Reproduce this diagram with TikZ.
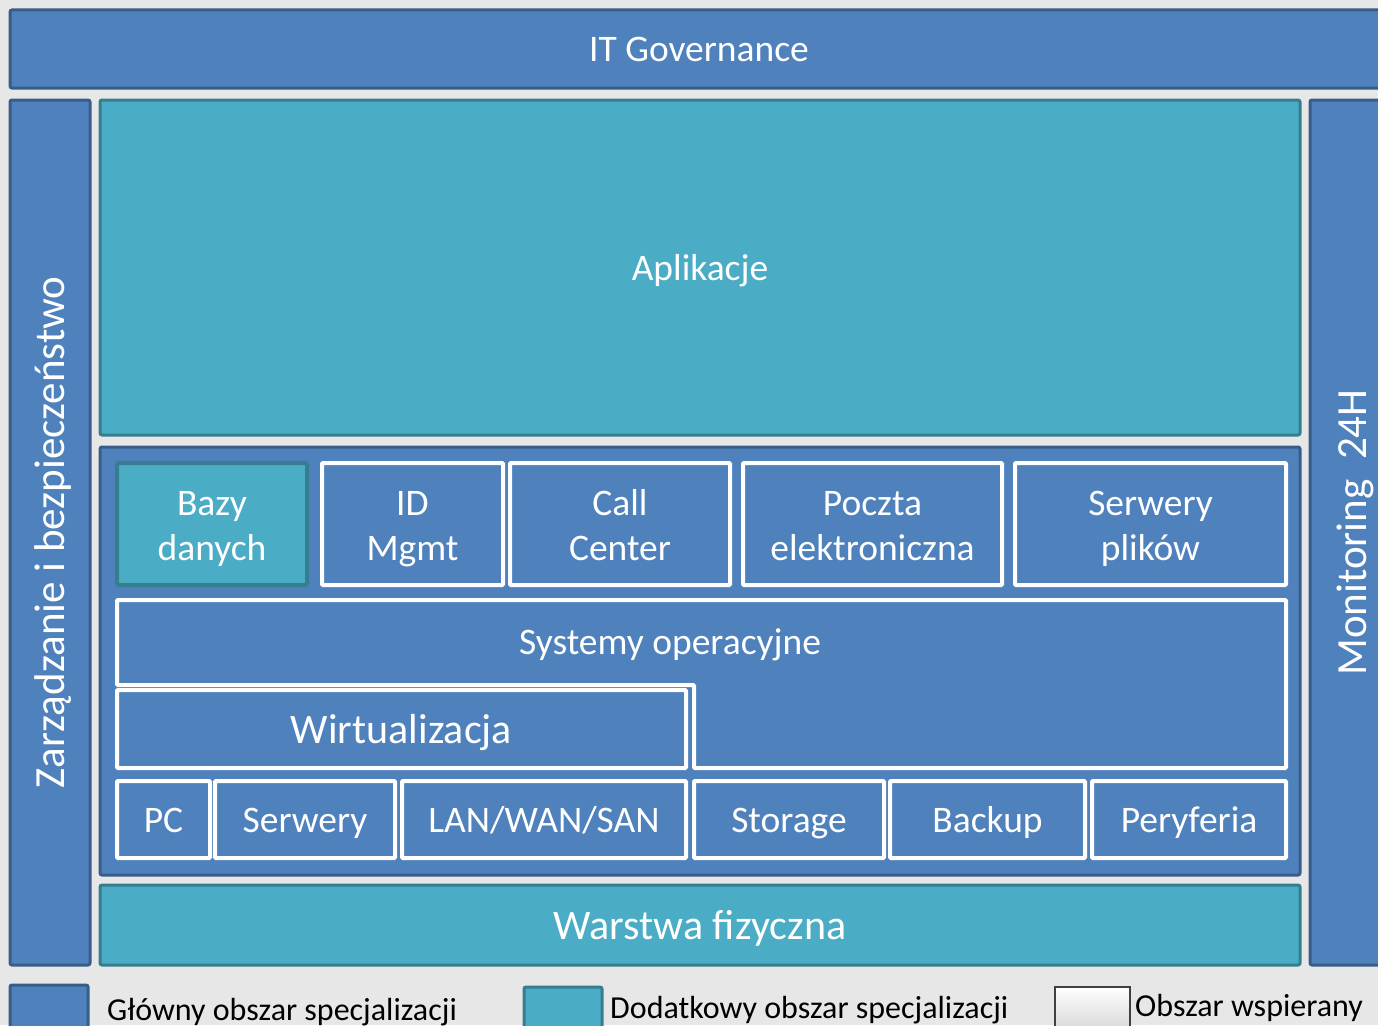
\documentclass[tikz,border=0pt]{standalone}
\usepackage{fontspec}
\setmainfont{Carlito}
\definecolor{mainBlue}{HTML}{4F81BD}
\definecolor{mainBlueEdge}{HTML}{385D8A}
\definecolor{extraTeal}{HTML}{4BACC6}
\definecolor{extraTealEdge}{HTML}{357D8F}
\definecolor{pageGray}{HTML}{E7E7E7}
\newcommand\lineStrut{\rule[-0.269em]{0pt}{1.221em}}
\newcommand\upStrut{\rule{0pt}{0.99em}}
\newcommand\downStrut{\rule[-0.269em]{0pt}{0pt}}

\begin{document}
\begin{tikzpicture}
[x=1pt,y=-1pt,
  mainBox/.style={draw=mainBlueEdge,fill=mainBlue,line width=3pt,rounded corners=2pt,%
    text=white,font=\fontsize{37.5}{45}\selectfont,align=center,inner sep=0pt,%
    execute at begin node=\lineStrut,execute at end node=\lineStrut},
  extraBox/.style={mainBox,draw=extraTealEdge,fill=extraTeal},
  innerBox/.style={mainBox,draw=white,line width=4pt,rounded corners=1pt},
  sideText/.style={rotate=90,inner sep=0pt,text=white,font=\fontsize{43}{50}\selectfont,%
    execute at begin node=\lineStrut},
  legendText/.style={anchor=base west,inner sep=0pt,text=black,font=\fontsize{32}{38}\selectfont}]
%% page
\clip (0,0) rectangle (1378,1025);
\fill[pageGray] (0,0) rectangle (1378,1025);
%% outer frame
\node[mainBox,minimum width=1378,minimum height=78] (gov) at (699,49) {IT Governance};
\node[mainBox,minimum width=80,minimum height=865] (mgmt) at (50,532.5) {};
\node[sideText] (mgmtText) at (mgmt.center) {Zarządzanie i bezpieczeństwo};
\node[mainBox,minimum width=84,minimum height=865] (mon) at (1352,532.5) {};
\node[sideText] (monText) at (mon.center) {Monitoring\ \ 24H};
\node[extraBox,minimum width=1200,minimum height=335] (apps) at (700,267.5) {Aplikacje};
\node[mainBox,minimum width=1200,minimum height=428] (infra) at (700,661) {};
\node[extraBox,minimum width=1200,minimum height=80,font=\fontsize{42}{50}\selectfont] (phys) at (700,925) {Warstwa fizyczna};
%% services
\node[extraBox,line width=4pt,minimum width=190,minimum height=122] (db) at (212,524) {\upStrut Bazy\\danych\downStrut};
\foreach \nodename/\xa/\xb/\label in {
  idm/322/503/{ID\\Mgmt},
  call/510/730/{Call\\Center},
  mail/743/1002/{Poczta\\elektroniczna},
  files/1015/1286/{Serwery\\plików}}
{
  \node[innerBox,minimum width=\xb-\xa,minimum height=122] (\nodename) at ({(\xa+\xb)/2},524) {\upStrut\label\downStrut};
}
%% operating systems and virtualisation
\draw[draw=white,fill=mainBlue,line width=4pt,rounded corners=1pt]
  (117,600) -- (1286,600) -- (1286,768) -- (694,768) -- (694,685) -- (117,685) -- cycle;
\node[inner sep=0pt,text=white,font=\fontsize{37.5}{45}\selectfont,execute at begin node=\lineStrut] (os) at (670,642) {Systemy operacyjne};
\node[innerBox,minimum width=569,minimum height=78,font=\fontsize{42}{50}\selectfont] (virt) at (401.5,729) {Wirtualizacja};
%% hardware
\foreach \nodename/\xa/\xb/\label in {
  pc/117/210/PC,
  srv/215/395/Serwery,
  net/402/686/{LAN/WAN/SAN},
  stor/694/884/Storage,
  bak/890/1085/Backup,
  per/1092/1286/Peryferia}
{
  \node[innerBox,minimum width=\xb-\xa,minimum height=77] (\nodename) at ({(\xa+\xb)/2},819.5) {\label};
}
%% legend
\node[mainBox,minimum width=78,minimum height=50] (keyMain) at (49,1010) {};
\node[legendText] (keyMainText) at (107,1020) {Główny obszar specjalizacji};
\node[extraBox,minimum width=78,minimum height=50] (keyExtra) at (563,1012) {};
\node[legendText] (keyExtraText) at (610,1018) {Dodatkowy obszar specjalizacji};
\node[draw=black!75,line width=2pt,top color=white,bottom color=black!18,minimum width=75,minimum height=50,inner sep=0pt] (keySupp) at (1092.5,1012) {};
\node[legendText] (keySuppText) at (1135,1016) {Obszar wspierany};
\end{tikzpicture}
\end{document}
